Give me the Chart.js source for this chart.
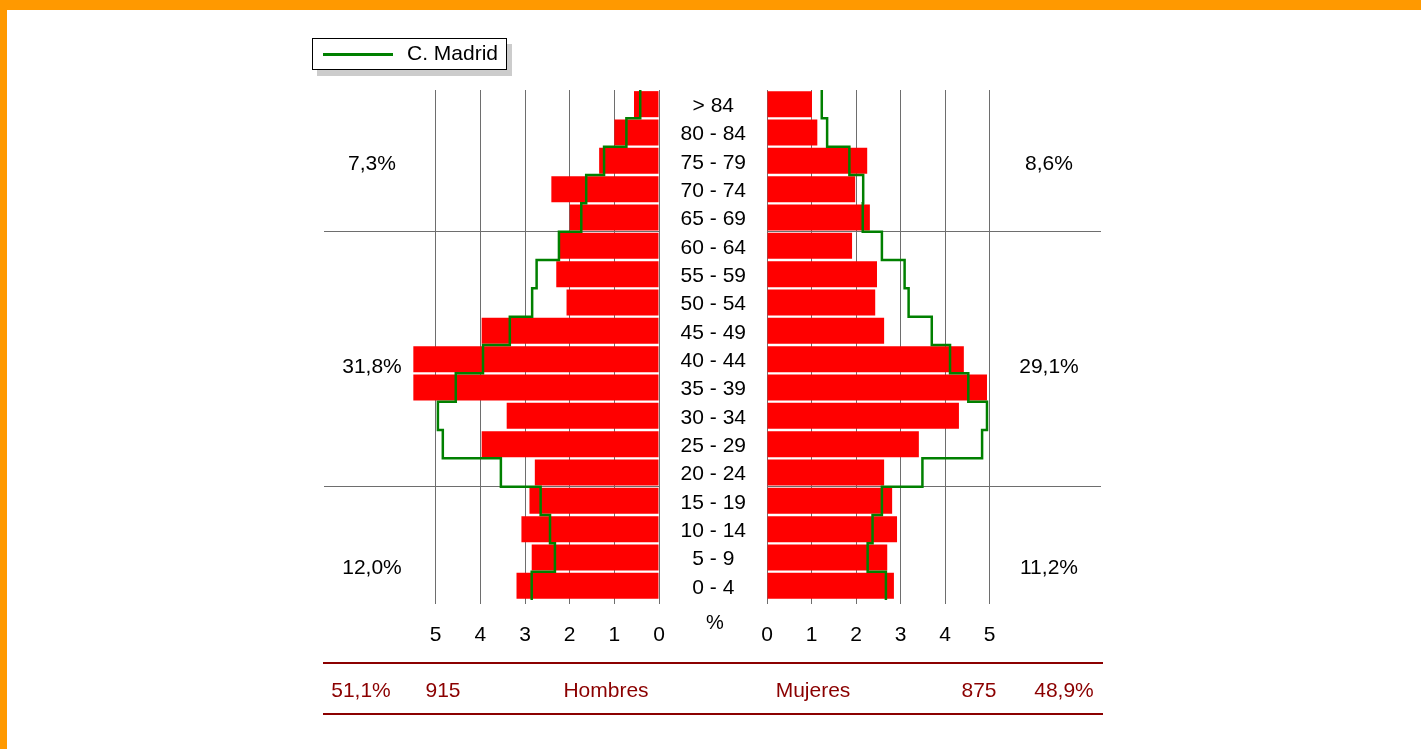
<!DOCTYPE html>
<html>
<head>
<meta charset="utf-8">
<title>Pirámide de población</title>
<script src="https://cdn.jsdelivr.net/npm/chart.js@4.4.1/dist/chart.umd.min.js"></script>
<style>
  body { margin: 0; background: #fff; overflow: hidden; font-family: "Liberation Sans", Arial, sans-serif; }
  #page { position: relative; width: 1421px; height: 749px; }
  canvas { position: absolute; left: 0; top: 0; }
  .txt { position: absolute; white-space: nowrap; transform: translate(-50%, -50%); font-size: 21px; color: #000; }
  .red { color: #8b0000; font-size: 21px; }
  .rule { position: absolute; left: 323px; width: 780px; height: 2px; background: #8b0000; }
</style>
</head>
<body>
<div id="page">
  <div style="position:absolute;left:0;top:0;width:1421px;height:10px;background:#ff9900"></div>
  <div style="position:absolute;left:0;top:0;width:7px;height:749px;background:#ff9900"></div>

  <canvas id="hombresChart" width="1421" height="749"></canvas>
  <canvas id="mujeresChart" width="1421" height="749"></canvas>

  <!-- legend -->
  <div style="position:absolute;left:312px;top:38px;width:193px;height:30px;border:1px solid #000;background:#fff;box-shadow:5px 6px 0 #cccccc">
    <div style="position:absolute;left:10px;top:14px;width:70px;height:3px;background:#008000"></div>
    <div style="position:absolute;left:94px;top:2px;font-size:21px">C. Madrid</div>
  </div>

  <div id="labels"></div>
  <div class="txt" style="left:715px;top:622px;font-size:20px">%</div>

  <div class="rule" style="top:662px"></div>
  <div class="rule" style="top:713px"></div>
  <div id="totals"></div>
</div>

<script>
// age groups, top to bottom
const ageGroups = ["> 84", "80 - 84", "75 - 79", "70 - 74", "65 - 69", "60 - 64", "55 - 59", "50 - 54",
  "45 - 49", "40 - 44", "35 - 39", "30 - 34", "25 - 29", "20 - 24", "15 - 19", "10 - 14", "5 - 9", "0 - 4"];

// % of population
const hombres = [0.56, 1.00, 1.34, 2.41, 2.00, 2.23, 2.30, 2.07, 3.97, 5.50, 5.50, 3.41, 3.97, 2.78, 2.90, 3.08, 2.85, 3.19];
const mujeres = [1.01, 1.13, 2.25, 1.98, 2.31, 1.91, 2.47, 2.43, 2.63, 4.42, 4.94, 4.31, 3.41, 2.63, 2.81, 2.92, 2.70, 2.85];

// C. Madrid reference profile
const madridHombres = [0.42, 0.73, 1.23, 1.63, 1.74, 2.24, 2.74, 2.84, 3.34, 3.94, 4.55, 4.95, 4.84, 3.54, 2.65, 2.44, 2.33, 2.85];
const madridMujeres = [1.23, 1.35, 1.85, 2.16, 2.15, 2.58, 3.09, 3.18, 3.70, 4.11, 4.52, 4.94, 4.83, 3.49, 2.58, 2.37, 2.26, 2.67];

const xTicks = [0, 1, 2, 3, 4, 5];
const dividerRows = [5, 14]; // lines above 60-64 and 15-19

const gruposHombres = ["7,3%", "31,8%", "12,0%"];
const gruposMujeres = ["8,6%", "29,1%", "11,2%"];
const totalHombres = 915, totalMujeres = 875;
const pctHombres = "51,1%", pctMujeres = "48,9%";

const W = 1421, H = 749;
const AXIS_H = 56;
const FONT = "'Liberation Sans', Arial, sans-serif";
const GRID = "#6e6e6e";

// each row becomes a flat segment from row top to row bottom
function stepPoints(vals) {
  const pts = [];
  vals.forEach((v, i) => {
    pts.push({ x: v, y: i - 0.5 });
    pts.push({ x: v, y: i + 0.5 });
  });
  return pts;
}

function makeChart(id, values, madrid, isLeft) {
  const ctx = document.getElementById(id).getContext("2d");
  return new Chart(ctx, {
    type: "bar",
    data: {
      labels: ageGroups,
      datasets: [
        {
          type: "bar",
          data: values,
          backgroundColor: "#ff0000",
          grouped: false,
          barPercentage: 0.92,
          categoryPercentage: 1,
          xAxisID: "x",
          yAxisID: "y",
          order: 2,
        },
        {
          type: "line",
          data: stepPoints(madrid),
          borderColor: "#008000",
          borderWidth: 2.5,
          pointRadius: 0,
          fill: false,
          tension: 0,
          xAxisID: "x",
          yAxisID: "y2",
          order: 1,
        },
      ],
    },
    options: {
      indexAxis: "y",
      responsive: false,
      animation: false,
      events: [],
      layout: {
        padding: isLeft
          ? { left: 324, right: W - 659, top: 90, bottom: H - 600 - AXIS_H }
          : { left: 659, right: W - 1101, top: 90, bottom: H - 600 - AXIS_H },
      },
      plugins: { legend: { display: false }, tooltip: { enabled: false } },
      scales: {
        x: {
          type: "linear",
          position: "bottom",
          offset: false,
          reverse: isLeft,
          min: 0,
          max: 7.5,
          afterBuildTicks: (s) => { s.ticks = xTicks.map((v) => ({ value: v })); },
          afterFit: (s) => { s.height = AXIS_H; },
          grid: { color: GRID, lineWidth: 1, tickLength: 4, offset: false },
          border: { display: false },
          ticks: { color: "#000", padding: 19, font: { family: FONT, size: 21 } },
        },
        y: {
          type: "category",
          position: "left",
          offset: true,
          afterFit: (s) => { s.width = isLeft ? 0 : 108; },
          grid: {
            offset: true,
            drawTicks: false,
            color: (c) => (dividerRows.includes(c.index) ? GRID : "rgba(0,0,0,0)"),
          },
          border: { display: false },
          ticks: {
            display: !isLeft,
            crossAlign: "center",
            padding: 21,
            labelOffset: 2,
            color: "#000",
            font: { family: FONT, size: 21 },
          },
        },
        y2: { type: "linear", display: false, offset: false, reverse: true, min: -0.5, max: 17.5 },
      },
    },
  });
}

makeChart("hombresChart", hombres, madridHombres, true);
makeChart("mujeresChart", mujeres, madridMujeres, false);

// group percentages beside each pyramid half
const groupY = [163, 366, 567];
const labelsDiv = document.getElementById("labels");
gruposHombres.forEach((t, i) => {
  labelsDiv.innerHTML += `<div class="txt" style="left:372px;top:${groupY[i]}px">${t}</div>`;
});
gruposMujeres.forEach((t, i) => {
  labelsDiv.innerHTML += `<div class="txt" style="left:1049px;top:${groupY[i]}px">${t}</div>`;
});

// totals row
document.getElementById("totals").innerHTML = `
  <div class="txt red" style="left:361px;top:690px">${pctHombres}</div>
  <div class="txt red" style="left:443px;top:690px">${totalHombres}</div>
  <div class="txt red" style="left:606px;top:690px">Hombres</div>
  <div class="txt red" style="left:813px;top:690px">Mujeres</div>
  <div class="txt red" style="left:979px;top:690px">${totalMujeres}</div>
  <div class="txt red" style="left:1064px;top:690px">${pctMujeres}</div>
`;
</script>
</body>
</html>
